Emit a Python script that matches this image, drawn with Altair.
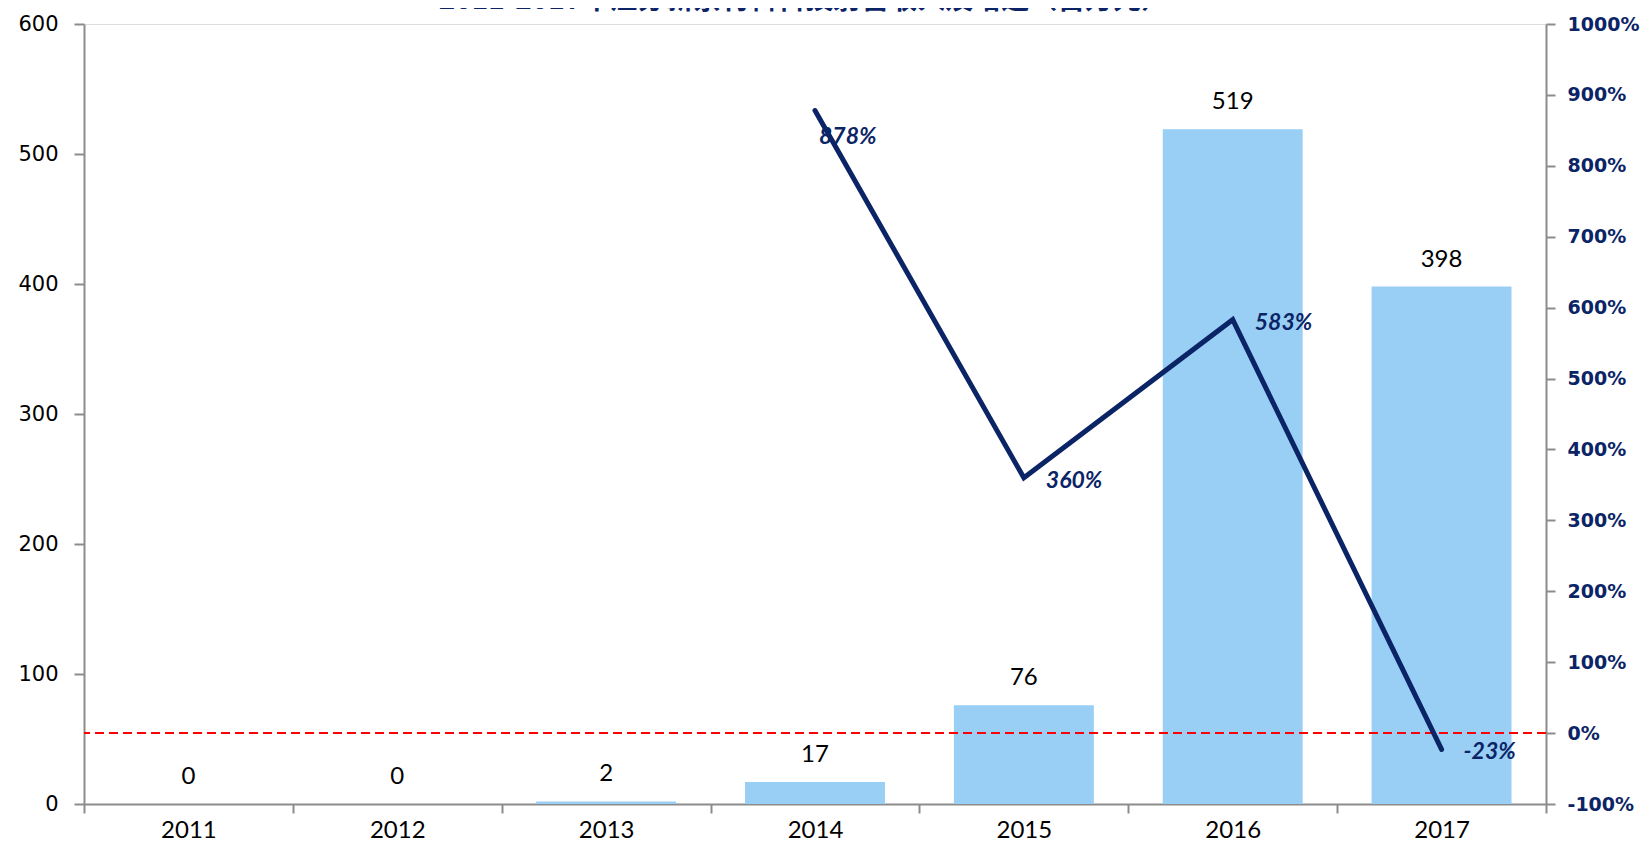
import altair as alt
import pandas as pd

years = ["2011", "2012", "2013", "2014", "2015", "2016", "2017"]
revenue = [0, 0, 2, 17, 76, 519, 398]
growth = [None, None, None, 878, 360, 583, -23]
title_text = "2011-2017年江苏新余材料科技射营收入及增速（百万元）"

df = pd.DataFrame({"year": years, "revenue": revenue, "growth": growth})
df["glabel"] = [None if g is None else f"{g}%" for g in growth]

NAVY = "#0B2466"
BLUE = "#99CFF5"
GREY = "#8C8C8C"

base = alt.Chart(df)

x_enc = alt.X("year:N", sort=years, title=None,
              scale=alt.Scale(paddingInner=0, paddingOuter=0),
              axis=alt.Axis(tickBand="extent", labelAngle=0,
                            labelFont="Lato", labelFontSize=24, labelColor="#000000",
                            labelPadding=5, tickSize=9, tickColor=GREY, tickWidth=2,
                            domainColor=GREY, domainWidth=2))

y_left = alt.Y("revenue:Q", title=None,
               scale=alt.Scale(domain=[0, 600], nice=False, zero=True),
               axis=alt.Axis(orient="left", values=[0, 100, 200, 300, 400, 500, 600],
                             grid=False, labelFont="DejaVu Sans", labelFontSize=21,
                             labelColor="#000000", labelPadding=16, tickSize=10,
                             tickColor=GREY, tickWidth=2, domainColor=GREY, domainWidth=2))

bars = base.mark_bar(color=BLUE, width={"band": 0.67}).encode(x=x_enc, y=y_left)
bar_labels = base.mark_text(font="Lato", fontSize=24, color="#000000", dy=-27).encode(
    x=alt.X("year:N", sort=years), y="revenue:Q", text="revenue:Q")

left_layer = alt.layer(bars, bar_labels)

y_right_scale = alt.Scale(domain=[-100, 1000], nice=False, zero=False)
y_right = alt.Y("growth:Q", title=None, scale=y_right_scale,
                axis=alt.Axis(orient="right", values=list(range(-100, 1001, 100)),
                              labelExpr="datum.value + '%'", grid=False,
                              labelFont="DejaVu Sans", labelFontWeight="bold",
                              labelFontSize=19, labelColor=NAVY, labelPadding=12,
                              tickSize=9, tickColor=GREY, tickWidth=2,
                              domainColor=GREY, domainWidth=2))

line = base.mark_line(color=NAVY, strokeWidth=5, strokeCap="round").encode(
    x=alt.X("year:N", sort=years), y=y_right)

zero_rule = base.mark_rule(color="#FF0000", strokeDash=[9, 5], strokeWidth=2).encode(
    y=alt.datum(0))

lbl_first = base.transform_filter("datum.year == '2014'").mark_text(
    font="Lato", fontSize=23, fontWeight="bold", fontStyle="italic", color=NAVY,
    align="left", dx=4, dy=26).encode(x=alt.X("year:N", sort=years), y="growth:Q", text="glabel:N")

lbl_rest = base.transform_filter("datum.year > '2014'").mark_text(
    font="Lato", fontSize=23, fontWeight="bold", fontStyle="italic", color=NAVY,
    align="left", dx=22, dy=3).encode(x=alt.X("year:N", sort=years), y="growth:Q", text="glabel:N")

title_mark = alt.Chart(pd.DataFrame({"t": [title_text]})).mark_text(
    font="Noto Sans CJK SC", fontSize=28, fontWeight="bold", color=NAVY,
    baseline="bottom", align="center").encode(
    x=alt.value(720), y=alt.value(-9), text="t:N")

right_layer = alt.layer(zero_rule, line, lbl_first, lbl_rest, title_mark)

chart = alt.layer(left_layer, right_layer).resolve_scale(y="independent").properties(
    width=1462, height=780,
    autosize=alt.AutoSizeParams(type="none"),
    padding={"left": 76, "top": 16, "right": 95, "bottom": 38},
).configure_view(stroke=None).configure(background="#FFFFFF")

chart.save("out.html", embed_options={"renderer": "svg", "actions": False})
